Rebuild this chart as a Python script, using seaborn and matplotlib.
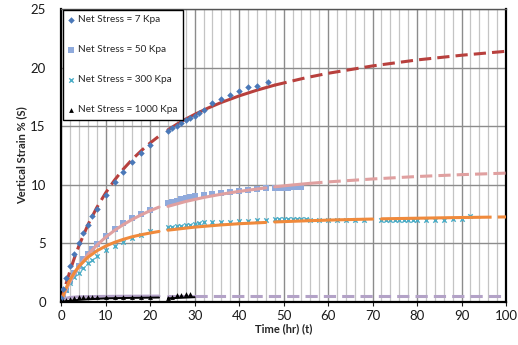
import numpy as np
import pandas as pd
import matplotlib
matplotlib.use("Agg")
import matplotlib.pyplot as plt
import seaborn as sns
from matplotlib.ticker import MultipleLocator

# ---------------- data ----------------
# Net Stress = 7 Kpa (measured)
t7 = [0, 0.5, 1, 2, 3, 4, 5, 6, 7, 8, 10, 12, 14, 16, 18, 20,
      24, 25, 26, 27, 28, 29, 30, 31, 32, 34, 36, 38, 40, 42, 44, 46.5]
s7 = [0.3, 1.1, 2.0, 3.1, 4.1, 5.0, 5.85, 6.6, 7.35, 7.9, 9.15, 10.2, 11.05, 11.9, 12.7, 13.4,
      14.55, 14.8, 15.05, 15.25, 15.5, 15.7, 15.9, 16.1, 16.35, 16.95, 17.35, 17.65, 18.0, 18.3, 18.45, 18.75]

# Net Stress = 50 Kpa (measured)
t50 = [0.5, 1, 2, 3, 4, 5, 6, 7, 8, 10, 12, 14, 16, 18, 20,
       24, 25, 26, 27, 28, 29, 30, 32, 34, 36, 38, 40, 42, 44, 46,
       48, 49, 50, 51, 52, 53, 54]
s50 = [0.55, 1.0, 1.8, 2.5, 3.1, 3.65, 4.1, 4.55, 4.9, 5.6, 6.2, 6.7, 7.15, 7.5, 7.85,
       8.45, 8.55, 8.65, 8.75, 8.85, 8.92, 9.0, 9.1, 9.2, 9.3, 9.4, 9.45, 9.55, 9.6, 9.7,
       9.72, 9.74, 9.75, 9.76, 9.77, 9.78, 9.8]

# Net Stress = 300 Kpa (measured)
t300 = [0.5, 1, 2, 3, 4, 5, 6, 7, 8, 10, 12, 14, 16, 18, 20,
        24, 25, 26, 27, 28, 29, 30, 31, 32, 34, 36, 38, 40, 42, 44, 46,
        48, 49, 50, 51, 52, 53, 54, 55, 56, 58, 60, 62, 64, 66, 68,
        72, 73, 74, 75, 76, 77, 78, 79, 80, 82, 84, 86, 88, 90, 92]
s300 = [0.6, 1.0, 1.6, 2.1, 2.5, 2.9, 3.3, 3.6, 3.95, 4.45, 4.8, 5.15, 5.45, 5.7, 6.05,
        6.35, 6.4, 6.45, 6.5, 6.55, 6.6, 6.65, 6.7, 6.78, 6.8, 6.85, 6.85, 6.9, 6.9, 6.95, 7.0,
        7.05, 7.05, 7.05, 7.05, 7.05, 7.05, 7.05, 7.05, 7.0, 7.0, 7.0, 7.0, 7.0, 7.0, 7.0,
        7.0, 7.0, 7.0, 7.0, 7.0, 7.0, 7.0, 7.0, 7.0, 7.0, 7.0, 7.0, 7.05, 7.1, 7.3]

# Net Stress = 1000 Kpa (measured)
t1000 = [0, 0.5, 1, 2, 3, 4, 5, 6, 7, 8, 10, 12, 14, 16, 18, 20, 24, 25, 26, 27, 28, 29]
s1000 = [0.05, 0.1, 0.15, 0.25, 0.35, 0.4, 0.42, 0.45, 0.45, 0.45, 0.45, 0.45, 0.45, 0.45,
         0.45, 0.45, 0.35, 0.45, 0.55, 0.6, 0.65, 0.7]

# fitted curves: (segment times, segment strains)
fit7_a_t = [0, 0.5, 1, 2, 3, 4, 6, 8, 10, 12, 14, 16, 18, 20, 22]
fit7_a_s = [0, 0.72, 1.40, 2.65, 3.77, 4.79, 6.56, 8.04, 9.30, 10.39, 11.34, 12.17, 12.90, 13.56, 14.15]
fit7_b_t = [24, 26, 28, 30, 33, 36, 40, 44, 48]
fit7_b_s = [14.68, 15.16, 15.60, 16.0, 16.54, 17.02, 17.58, 18.07, 18.50]
fit7_c_t = [48, 55, 60, 70, 80, 90, 100]
fit7_c_s = [18.50, 19.13, 19.51, 20.14, 20.65, 21.05, 21.39]

fit50_a_t = [0, 0.5, 1, 2, 3, 4, 6, 8, 10, 12, 14, 16, 18, 20, 22]
fit50_a_s = [0, 0.48, 0.93, 1.72, 2.41, 3.03, 4.03, 4.83, 5.52, 6.10, 6.60, 7.04, 7.43, 7.78, 8.09]
fit50_b_t = [24, 28, 32, 36, 40, 46]
fit50_b_s = [8.15, 8.57, 8.91, 9.19, 9.43, 9.73]
fit50_c_t = [48, 52, 56]
fit50_c_s = [9.82, 9.98, 10.12]
fit50_d_t = [56, 60, 70, 80, 90, 100]
fit50_d_s = [10.12, 10.24, 10.49, 10.70, 10.86, 10.99]

fit300_a_t = [0, 0.5, 1, 2, 3, 4, 6, 8, 10, 12, 14, 16, 18, 20, 22]
fit300_a_s = [0, 0.58, 1.08, 1.89, 2.52, 3.03, 3.80, 4.35, 4.76, 5.08, 5.34, 5.56, 5.73, 5.88, 6.01]
fit300_b_t = [24, 30, 36, 40, 46]
fit300_b_s = [6.12, 6.38, 6.57, 6.67, 6.78]
fit300_c_t = [48, 55, 62, 70]
fit300_c_s = [6.82, 6.92, 7.00, 7.07]
fit300_d_t = [72, 80, 88, 94]
fit300_d_s = [7.09, 7.14, 7.19, 7.22]
fit300_e_t = [94, 100]
fit300_e_s = [7.22, 7.25]

fit1000_a_t = [0, 1, 2, 4, 6, 8, 10, 14, 18, 22]
fit1000_a_s = [0, 0.05, 0.1, 0.17, 0.22, 0.26, 0.3, 0.33, 0.35, 0.37]
fit1000_b_t = [24, 27, 30]
fit1000_b_s = [0.3, 0.35, 0.4]

fitp_a_t = [0, 0.5, 1, 2, 4, 8, 14, 22]
fitp_a_s = [0, 0.2, 0.3, 0.38, 0.43, 0.46, 0.48, 0.49]
fitp_b_t = [24, 30]
fitp_b_s = [0.5, 0.5]
fitp_c_t = [30, 100]
fitp_c_s = [0.5, 0.5]

x_ticks = [0, 10, 20, 30, 40, 50, 60, 70, 80, 90, 100]
y_ticks = [0, 5, 10, 15, 20, 25]

labels = ["Net Stress = 7 Kpa", "Net Stress = 50 Kpa",
          "Net Stress = 300 Kpa", "Net Stress = 1000 Kpa"]

# ---------------- style ----------------
sns.set_theme(style="white")
plt.rcParams['font.family'] = ['Lato', 'DejaVu Sans']

RED = "#B8403D"
PINK = "#E0A0A0"
ORANGE = "#F08A3C"
BLUE = "#4A78B8"
LBLUE = "#8FAADC"
CYAN = "#4BACC6"
PURPLE = "#B3A2C7"
BLACK = "#000000"

fig = plt.figure(figsize=(5.18, 3.45), dpi=100)
ax = fig.add_axes([0.118, 0.125, 0.859, 0.849])

ax.set_xlim(0, 100)
ax.set_ylim(0, 25)
ax.xaxis.set_major_locator(MultipleLocator(10))
ax.xaxis.set_minor_locator(MultipleLocator(2))
ax.yaxis.set_major_locator(MultipleLocator(5))
ax.grid(which="minor", axis="x", color="#C4C4C4", lw=0.9)
ax.grid(which="major", axis="x", color="#8C8C8C", lw=1.0)
ax.grid(which="major", axis="y", color="#8C8C8C", lw=1.0)
ax.set_axisbelow(True)


def seg(tt, ss, color, dashed=False, lw=2.2, z=3):
    df = pd.DataFrame({"t": tt, "s": ss})
    kw = dict(x="t", y="s", data=df, ax=ax, color=color, lw=lw, legend=False,
              zorder=z, estimator=None, sort=False)
    l = sns.lineplot(**kw)
    if dashed:
        l.lines[-1].set_dashes((4, 2))


# measured points
d7 = pd.DataFrame({"t": t7, "s": s7})
d50 = pd.DataFrame({"t": t50, "s": s50})
d300 = pd.DataFrame({"t": t300, "s": s300})
d1000 = pd.DataFrame({"t": t1000, "s": s1000})

sns.scatterplot(data=d7, x="t", y="s", ax=ax, marker="D", s=11, color=BLUE,
                edgecolor=BLUE, linewidth=0, label=labels[0], zorder=4)
sns.scatterplot(data=d50, x="t", y="s", ax=ax, marker="s", s=14, color=LBLUE,
                edgecolor=LBLUE, linewidth=0, label=labels[1], zorder=2)
sns.scatterplot(data=d300, x="t", y="s", ax=ax, marker="x", s=10, color=CYAN,
                linewidth=1.0, label=labels[2], zorder=2)
sns.scatterplot(data=d1000, x="t", y="s", ax=ax, marker="^", s=12, color=BLACK,
                edgecolor=BLACK, linewidth=0, label=labels[3], zorder=4)

# fitted curves
seg(fit7_a_t, fit7_a_s, RED, dashed=True)
seg(fit7_b_t, fit7_b_s, RED)
seg(fit7_c_t, fit7_c_s, RED, dashed=True)

seg(fit50_a_t, fit50_a_s, PINK)
seg(fit50_b_t, fit50_b_s, PINK)
seg(fit50_c_t, fit50_c_s, PINK)
seg(fit50_d_t, fit50_d_s, PINK, dashed=True)

seg(fit300_a_t, fit300_a_s, ORANGE)
seg(fit300_b_t, fit300_b_s, ORANGE)
seg(fit300_c_t, fit300_c_s, ORANGE)
seg(fit300_d_t, fit300_d_s, ORANGE)
seg(fit300_e_t, fit300_e_s, ORANGE, dashed=True)

seg(fitp_a_t, fitp_a_s, PURPLE)
seg(fitp_b_t, fitp_b_s, PURPLE)
seg(fitp_c_t, fitp_c_s, PURPLE, dashed=True)

seg(fit1000_a_t, fit1000_a_s, BLACK, lw=1.4)
seg(fit1000_b_t, fit1000_b_s, BLACK, lw=1.4)

ax.set_xticks(x_ticks)
ax.set_yticks(y_ticks)
ax.set_xticklabels([str(v) for v in x_ticks])
ax.set_yticklabels([str(v) for v in y_ticks])
ax.tick_params(axis="both", labelsize=9.5, colors="#1A1A1A", pad=2)
ax.tick_params(axis="x", which="major", bottom=True, length=3, width=0.8, pad=3)
ax.tick_params(axis="y", which="major", left=False, pad=5)

ax.set_xlabel("Time (hr) (t)", fontsize=8, fontweight="bold", labelpad=1)
ax.set_ylabel("Vertical Strain % (S)", fontsize=8, fontweight="bold", labelpad=2)

for side in ["left", "bottom", "right"]:
    ax.spines[side].set_color("#000000")
    ax.spines[side].set_linewidth(1.6)
ax.spines["top"].set_color("#555555")
ax.spines["top"].set_linewidth(1.0)

leg = ax.legend(loc="upper left", bbox_to_anchor=(0.004, 0.997), fontsize=7.2,
                frameon=True, fancybox=False, edgecolor="#000000", framealpha=1,
                labelspacing=2.1, handletextpad=0.35, handlelength=0.6,
                borderpad=0.55, borderaxespad=0)
leg.get_frame().set_linewidth(1.0)
leg.set_zorder(10)

fig.savefig("out.png", dpi=100)
